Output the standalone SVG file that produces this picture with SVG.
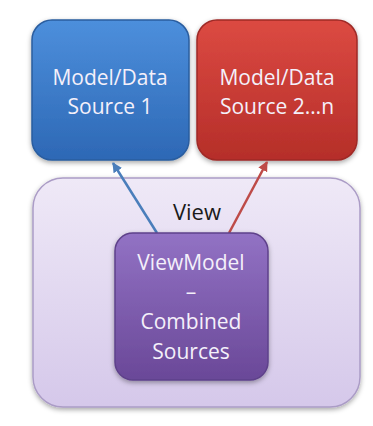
<svg xmlns="http://www.w3.org/2000/svg" width="373" height="426" viewBox="0 0 373 426">
<defs>
<linearGradient id="gBlue" x1="0" y1="0" x2="0" y2="1"><stop offset="0" stop-color="#4d8fdc"/><stop offset="1" stop-color="#2d68b5"/></linearGradient>
<linearGradient id="gRed" x1="0" y1="0" x2="0" y2="1"><stop offset="0" stop-color="#dc4a42"/><stop offset="1" stop-color="#b52e29"/></linearGradient>
<linearGradient id="gView" x1="0" y1="0" x2="0" y2="1"><stop offset="0" stop-color="#efe9f7"/><stop offset="1" stop-color="#d5c8ea"/></linearGradient>
<linearGradient id="gVM" x1="0" y1="0" x2="0" y2="1"><stop offset="0" stop-color="#9272c4"/><stop offset="1" stop-color="#6a4898"/></linearGradient>
<filter id="sh" x="-20%" y="-20%" width="140%" height="140%"><feDropShadow dx="0" dy="2" stdDeviation="2.5" flood-color="#000" flood-opacity="0.35"/></filter>
<marker id="aBlue" viewBox="0 0 10 10" refX="9" refY="5" markerWidth="4" markerHeight="4" orient="auto"><path d="M0,0 L10,5 L0,10 z" fill="#4a7ebb"/></marker>
<marker id="aRed" viewBox="0 0 10 10" refX="9" refY="5" markerWidth="4" markerHeight="4" orient="auto"><path d="M0,0 L10,5 L0,10 z" fill="#be4b48"/></marker>
</defs>
<style>
.lbl{font-family:"Open Sans","Liberation Sans",sans-serif;font-size:21px;fill:#f4f0fa;text-anchor:middle;}
.dark{fill:#1a1a1a;font-size:22px;}
</style>
<rect width="373" height="426" fill="#ffffff"/>
<g id="view">
<rect x="33" y="178" width="327" height="229" rx="30" fill="url(#gView)" stroke="#ab9cc6" stroke-width="1.5" filter="url(#sh)"/>
<text class="lbl dark" x="197" y="220">View</text>
</g>
<g id="source1">
<rect x="32" y="20" width="157" height="140" rx="20" fill="url(#gBlue)" stroke="#2a5d9f" stroke-width="1.5" filter="url(#sh)"/>
<text class="lbl" x="110" y="85">Model/Data</text>
<text class="lbl" x="110" y="114">Source 1</text>
</g>
<g id="source2">
<rect x="197" y="20" width="160" height="140" rx="20" fill="url(#gRed)" stroke="#9e2a26" stroke-width="1.5" filter="url(#sh)"/>
<text class="lbl" x="277" y="85">Model/Data</text>
<text class="lbl" x="277" y="114">Source 2…n</text>
</g>
<g id="connectors">
<line x1="157" y1="233" x2="113" y2="163" stroke="#4a7ebb" stroke-width="2.5" marker-end="url(#aBlue)"/>
<line x1="229" y1="233" x2="267" y2="162" stroke="#be4b48" stroke-width="2.5" marker-end="url(#aRed)"/>
</g>
<g id="viewmodel">
<rect x="115" y="233" width="153" height="147" rx="18" fill="url(#gVM)" stroke="#5e418a" stroke-width="1.5" filter="url(#sh)"/>
<text class="lbl" x="191" y="270">ViewModel</text>
<text class="lbl" x="191" y="299">–</text>
<text class="lbl" x="191" y="329">Combined</text>
<text class="lbl" x="191" y="359">Sources</text>
</g>
</svg>
